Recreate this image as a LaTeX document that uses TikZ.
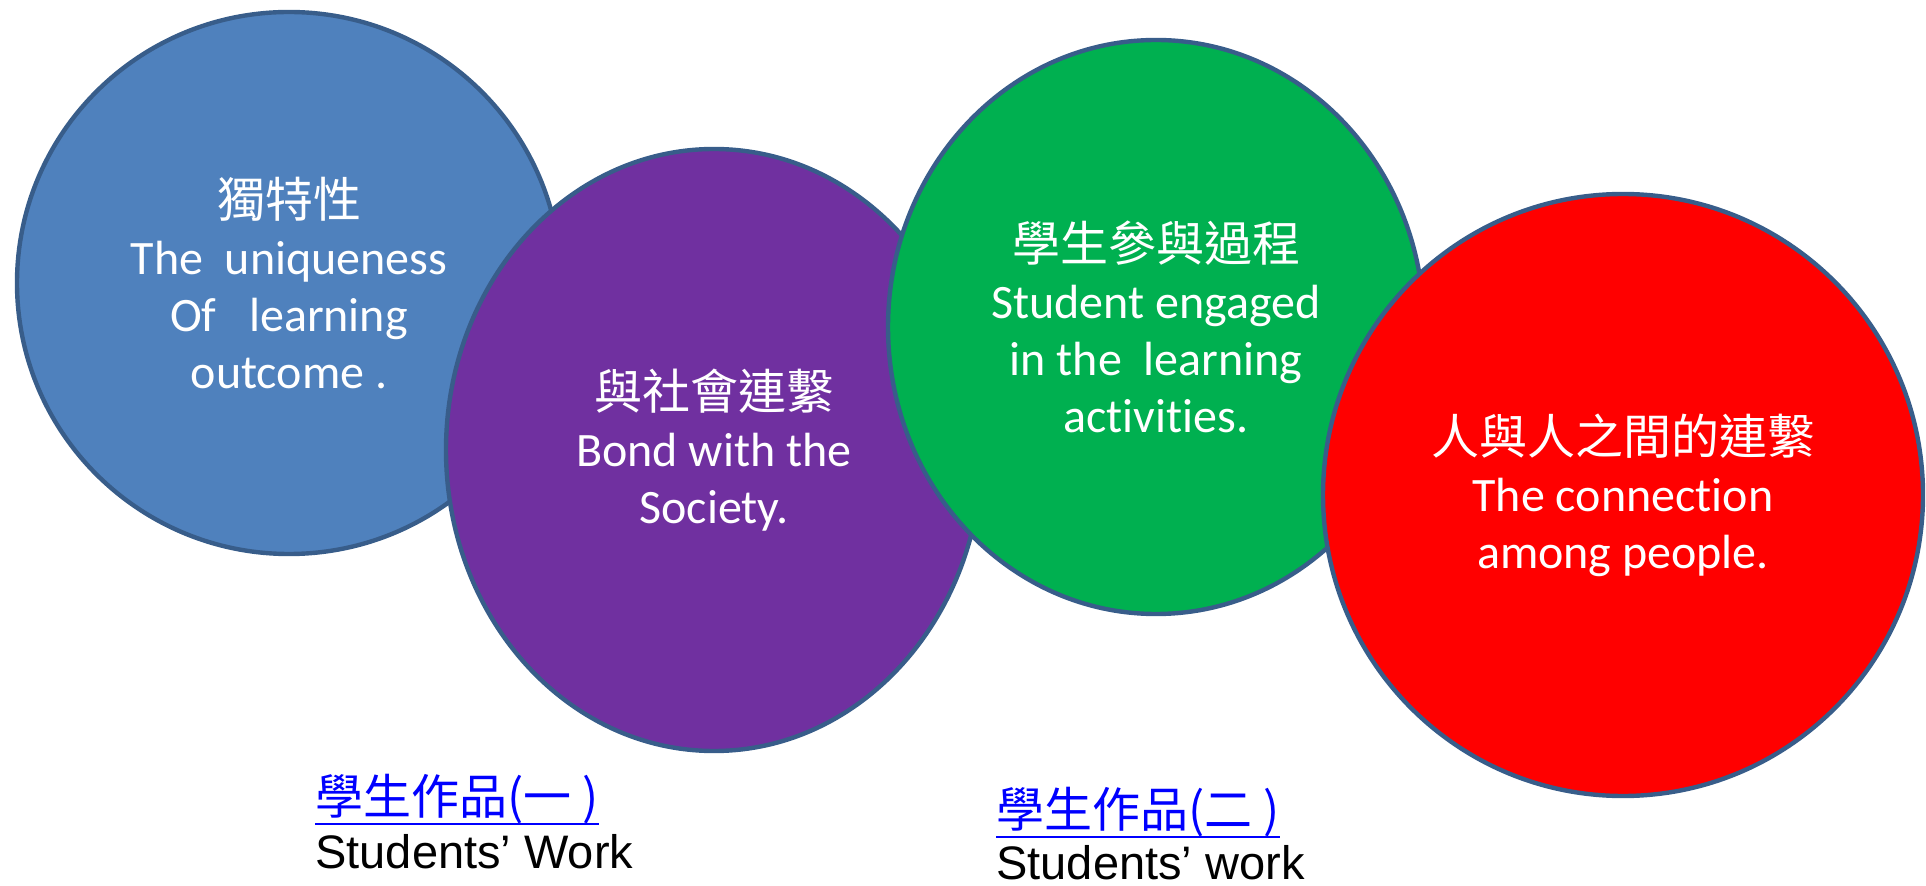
\documentclass[tikz,border=0pt]{standalone}
\usepackage{fontspec}
\setmainfont{Carlito}[Ligatures=NoCommon]
\newfontfamily\cjk{Noto Sans CJK TC}
\newfontfamily\arialf{Liberation Sans}
\usetikzlibrary{shapes.geometric}
\definecolor{edgec}{HTML}{385D8A}
\definecolor{cblue}{HTML}{4F81BD}
\definecolor{cpurple}{HTML}{7030A0}
\definecolor{cgreen}{HTML}{00B050}
\definecolor{cred}{HTML}{FF0000}
\definecolor{linkc}{HTML}{0000FF}
\tikzset{
  bubble/.style={ellipse, draw=edgec, line width=2.2pt, inner sep=0pt,
    text=white, align=center,
    font=\fontsize{24pt}{28.5pt}\selectfont},
  linklabel/.style={anchor=base west, inner sep=0pt, text=linkc,
    font=\fontsize{24pt}{28pt}\selectfont\cjk},
  caption/.style={anchor=base west, inner sep=0pt, text=black,
    font=\fontsize{23.5pt}{28pt}\selectfont\arialf},
  underl/.style={draw=linkc, line width=1.1pt}
}
\begin{document}
\begin{tikzpicture}[x=0.5pt,y=-0.5pt]
\useasboundingbox (0,0) rectangle (1926,886);
\node[bubble, fill=cblue, minimum width=272pt, minimum height=271pt] (blue) at (289,283)
  {{\cjk 獨特性}\\The~~uniqueness\\Of~~~learning\\outcome .};
\node[bubble, fill=cpurple, minimum width=268pt, minimum height=301pt] (purple) at (714,450)
  {{\cjk 與社會連繫}\\Bond with the\\Society.};
\node[bubble, fill=cgreen, minimum width=268pt, minimum height=287pt] (green) at (1156,327)
  {{\cjk 學生參與過程}\\Student engaged\\in the~~learning\\activities.};
\node[bubble, fill=cred, minimum width=300pt, minimum height=301pt] (red) at (1623,495)
  {{\cjk 人與人之間的連繫}\\The connection\\among people.};
\node[linklabel] (l1) at (315,814) {學生作品(一 )};
\draw[underl] (l1.south west) -- (l1.south east);
\node[caption] (c1) at (315,868) {Students’ Work};
\node[linklabel] (l2) at (996,827) {學生作品(二 )};
\draw[underl] (l2.south west) -- (l2.south east);
\node[caption] (c2) at (996,879) {Students’ work};
\end{tikzpicture}
\end{document}
